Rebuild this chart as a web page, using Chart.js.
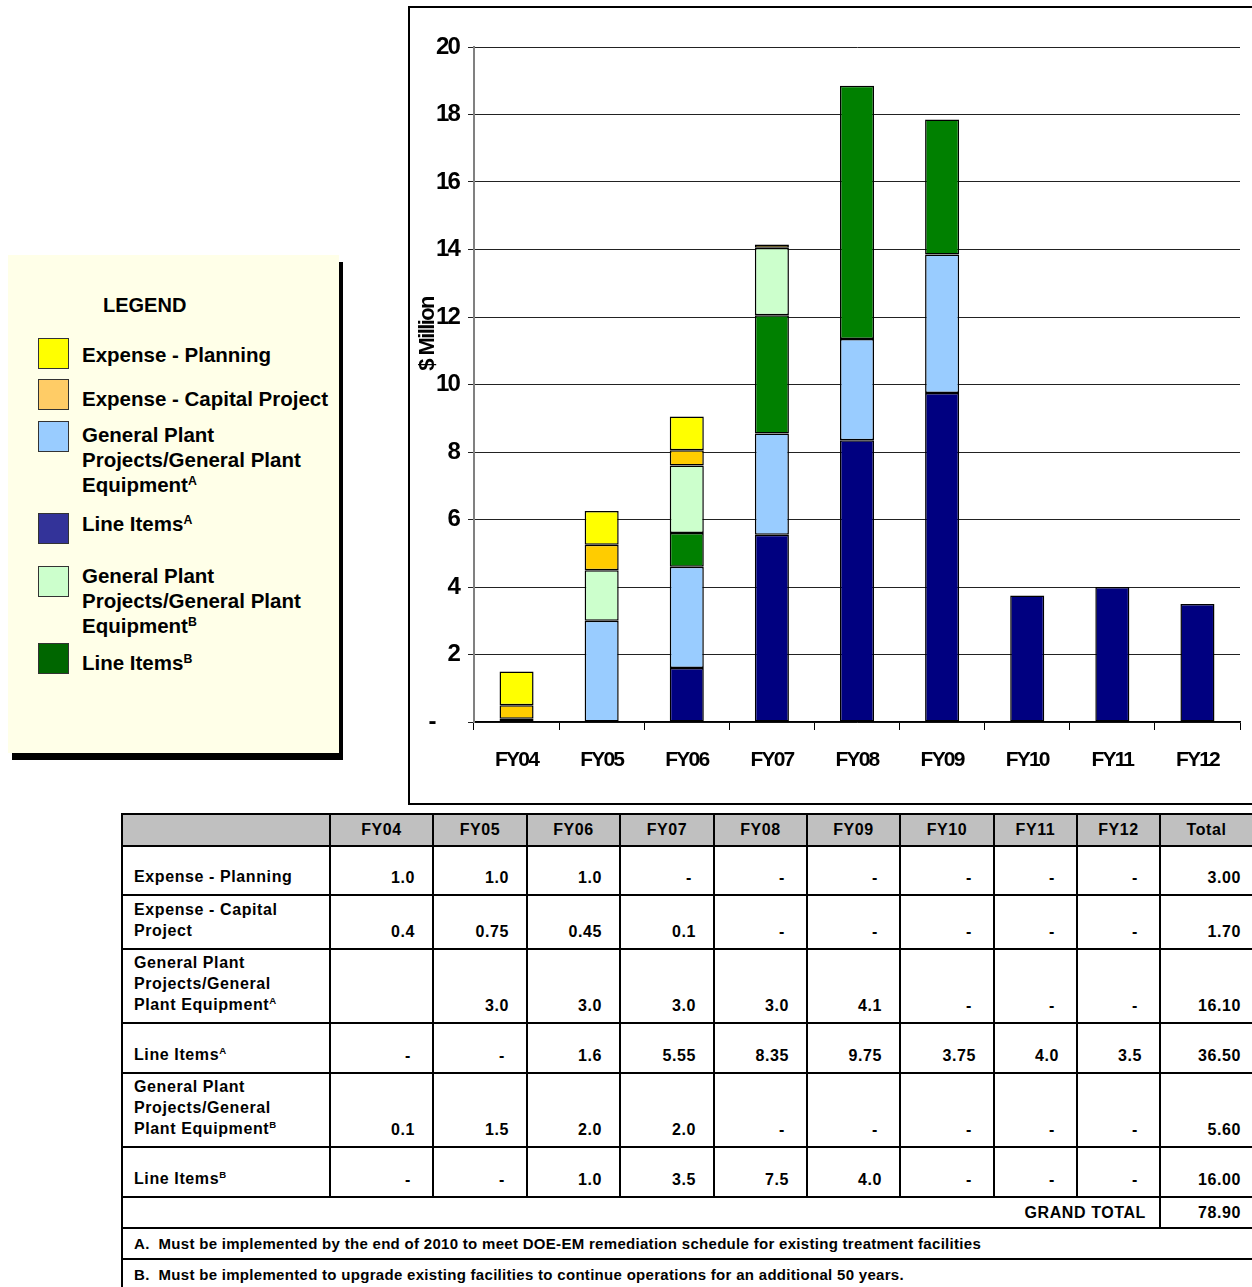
<!DOCTYPE html>
<html><head><meta charset="utf-8">
<script src="https://cdn.jsdelivr.net/npm/chart.js@4.4.1/dist/chart.umd.min.js"></script>
<style>
html,body{margin:0;padding:0;background:#fff;width:1252px;height:1287px;overflow:hidden;position:relative;font-family:"Liberation Sans",Arial,sans-serif;color:#000;}
#chartBox{position:absolute;left:408px;top:6px;width:860px;height:795px;border:2px solid #000;}
#chartWrap{position:absolute;left:0;top:0;width:842px;height:795px;}
#legend{position:absolute;left:8px;top:255px;width:331px;height:498px;background:#FFFFE8;box-shadow:4px 7px 0 #000;}
#legend .title{position:absolute;font-weight:bold;font-size:20px;}
.lg-sw{position:absolute;width:29px;height:29px;border:1px solid #333;}
.lg-tx{position:absolute;font-weight:bold;font-size:20.5px;line-height:25px;white-space:nowrap;}
.lg-tx sup,.tb sup{font-size:60%;line-height:0;vertical-align:0.6em;}
#tbl{position:absolute;left:121px;top:813px;width:1131px;border-collapse:collapse;table-layout:fixed;font-weight:bold;font-size:16px;letter-spacing:0.6px;}
#tbl td,#tbl th{border:2px solid #000;padding:0;box-sizing:border-box;}
#tbl th{background:#C0C0C0;text-align:center;vertical-align:middle;height:32px;font-weight:bold;}
#tbl td.lab{text-align:left;vertical-align:bottom;padding:0 0 7px 11px;line-height:21px;}
#tbl td.num{text-align:right;vertical-align:bottom;padding:0 17px 7px 0;}
#tbl td.tot{text-align:right;vertical-align:bottom;padding:0 11px 7px 0;}
#tbl td.dash{text-align:right;vertical-align:bottom;padding:0 21px 7px 0;}
#tbl td.gt{text-align:right;vertical-align:middle;padding-right:13px;}
#tbl td.gtv{text-align:right;vertical-align:middle;padding-right:11px;}
#tbl td.fn{text-align:left;vertical-align:middle;padding-left:11px;font-size:15px;letter-spacing:0.3px;height:31px;}
</style>
</head><body>
<div id="legend"></div>
<div id="chartBox"><div id="chartWrap"><canvas id="c"></canvas></div></div>
<table id="tbl" class="tb"></table>
<script>
// ---- data ----
const categories = ['FY04','FY05','FY06','FY07','FY08','FY09','FY10','FY11','FY12'];
const expensePlanning = [1.0, 1.0, 1.0, 0, 0, 0, 0, 0, 0];
const expenseCapital  = [0.4, 0.75, 0.45, 0.1, 0, 0, 0, 0, 0];
const gppA            = [null, 3.0, 3.0, 3.0, 3.0, 4.1, 0, 0, 0];
const lineItemsA      = [0, 0, 1.6, 5.55, 8.35, 9.75, 3.75, 4.0, 3.5];
const gppB            = [0.1, 1.5, 2.0, 2.0, 0, 0, 0, 0, 0];
const lineItemsB      = [0, 0, 1.0, 3.5, 7.5, 4.0, 0, 0, 0];
const yTicks = [0, 2, 4, 6, 8, 10, 12, 14, 16, 18, 20];
const seriesNames = ['Expense - Planning','Expense - Capital Project','General Plant Projects/General Plant Equipment A','Line Items A','General Plant Projects/General Plant Equipment B','Line Items B'];
const legendLabels = ['Expense - Planning','Expense - Capital Project','General Plant<br>Projects/General Plant<br>Equipment<sup>A</sup>','Line Items<sup>A</sup>','General Plant<br>Projects/General Plant<br>Equipment<sup>B</sup>','Line Items<sup>B</sup>'];
const tableLabels = ['Expense - Planning','Expense - Capital<br>Project','General Plant<br>Projects/General<br>Plant Equipment<sup>A</sup>','Line Items<sup>A</sup>','General Plant<br>Projects/General<br>Plant Equipment<sup>B</sup>','Line Items<sup>B</sup>'];
const footnotes = ['A.&nbsp; Must be implemented by the end of 2010 to meet DOE-EM remediation schedule for existing treatment facilities','B.&nbsp; Must be implemented to upgrade existing facilities to continue operations for an additional 50 years.'];
const seriesValues = [expensePlanning, expenseCapital, gppA, lineItemsA, gppB, lineItemsB];

// ---- styles ----
const barColors = ['#FFFF00','#FFCC00','#99CCFF','#000080','#CCFFCC','#008000'];
const legendColors = ['#FFFF00','#FFCC66','#99CCFF','#333399','#CCFFCC','#006600'];
const legendSwatchTop = [83,124,166,258,311,388];
const legendTextTop = [87,131,167,256,308,395];
const stackOrder = [3,2,5,4,1,0];
const colWidths = [208,103,94,93,94,93,93,94,83,83,93];
const rowHeights = [49,54,74,50,74,50];

// ---- legend ----
const lg = document.getElementById('legend');
let lh = '<div class="title" style="left:95px;top:39px">LEGEND</div>';
seriesNames.forEach((n,i)=>{
  lh += `<div class="lg-sw" style="top:${legendSwatchTop[i]}px;left:30px;background:${legendColors[i]}"></div>`;
  lh += `<div class="lg-tx" style="top:${legendTextTop[i]}px;left:74px">${legendLabels[i]}</div>`;
});
lg.innerHTML = lh;

// ---- table ----
function fmt(v){
  if (v === null || v === undefined) return '';
  if (v === 0) return '-';
  const t = v*10;
  return Math.abs(t-Math.round(t))<1e-9 ? v.toFixed(1) : v.toFixed(2);
}
let th = '<colgroup>' + colWidths.map(w=>`<col style="width:${w}px">`).join('') + '</colgroup>';
th += '<tr><th></th>' + categories.map(c=>`<th>${c}</th>`).join('') + '<th>Total</th></tr>';
let grand = 0;
seriesValues.forEach((arr,i)=>{
  const tot = arr.reduce((a,b)=>a+(b||0),0);
  grand += tot;
  th += `<tr style="height:${rowHeights[i]}px"><td class="lab">${tableLabels[i]}</td>` +
    arr.map(v=>`<td class="${v===0?'dash':'num'}">${fmt(v)}</td>`).join('') +
    `<td class="tot">${tot.toFixed(2)}</td></tr>`;
});
th += `<tr style="height:31px"><td colspan="${categories.length+1}" class="gt">GRAND TOTAL</td><td class="gtv">${grand.toFixed(2)}</td></tr>`;
footnotes.forEach(f=>{ th += `<tr><td colspan="${categories.length+2}" class="fn">${f}</td></tr>`; });
document.getElementById('tbl').innerHTML = th;

// ---- chart ----
const narrow = '"Liberation Sans Narrow","Arial Narrow","Liberation Sans",Arial,sans-serif';
const condensePlugin = {
  id:'condense',
  beforeUpdate(chart){ chart.ctx.letterSpacing = '-1.8px'; },
  beforeLayout(chart){ chart.ctx.letterSpacing = '-1.8px'; },
  beforeDraw(chart){ chart.ctx.letterSpacing = '-1.8px'; }
};
const yTitlePlugin = {
  id:'yTitle',
  afterDraw(chart){
    const ctx = chart.ctx, y = chart.scales.y;
    ctx.save();
    ctx.letterSpacing = '-1.6px';
    ctx.translate(y.left + 18, y.getPixelForValue(11.5));
    ctx.rotate(-Math.PI/2);
    ctx.font = 'bold 22px ' + narrow;
    ctx.fillStyle = '#000';
    ctx.textAlign = 'center';
    ctx.textBaseline = 'middle';
    ctx.fillText('$ Million', 0, 0);
    ctx.restore();
  }
};
new Chart(document.getElementById('c'), {
  type:'bar',
  data:{
    labels: categories,
    datasets: stackOrder.map(i=>({
      label: seriesNames[i],
      data: seriesValues[i].map(v=>v?v:null),
      backgroundColor: barColors[i],
      borderColor:'#000',
      borderWidth:1.5,
      borderSkipped:false,
      barPercentage:0.4,
      categoryPercentage:1
    }))
  },
  options:{
    responsive:true, maintainAspectRatio:false, animation:false, devicePixelRatio:1,
    layout:{padding:{top:39,right:12,left:0,bottom:0}},
    plugins:{legend:{display:false}, tooltip:{enabled:false}},
    scales:{
      x:{
        stacked:true,
        grid:{display:true, drawOnChartArea:false, drawTicks:true, tickLength:8, offset:true, color:'#000', lineWidth:1},
        border:{display:true, color:'#000', width:1.5},
        ticks:{font:{family:narrow, size:21, weight:'bold'}, color:'#000', padding:18, maxRotation:0},
        afterFit(s){ s.height = 81; }
      },
      y:{
        stacked:true, min:0, max:20,
        afterBuildTicks(s){ s.ticks = yTicks.map(v=>({value:v})); },
        ticks:{font:{family:narrow, size:24, weight:'bold'}, color:'#000', padding:9,
          callback:v=> v===0 ? '-     ' : String(v)},
        grid:{color:'#222', lineWidth:1, tickLength:6, drawTicks:true},
        border:{display:true, color:'#808080', width:2},
        afterFit(s){ s.width = 64; }
      }
    }
  },
  plugins:[condensePlugin, yTitlePlugin]
});
</script>
</body></html>
